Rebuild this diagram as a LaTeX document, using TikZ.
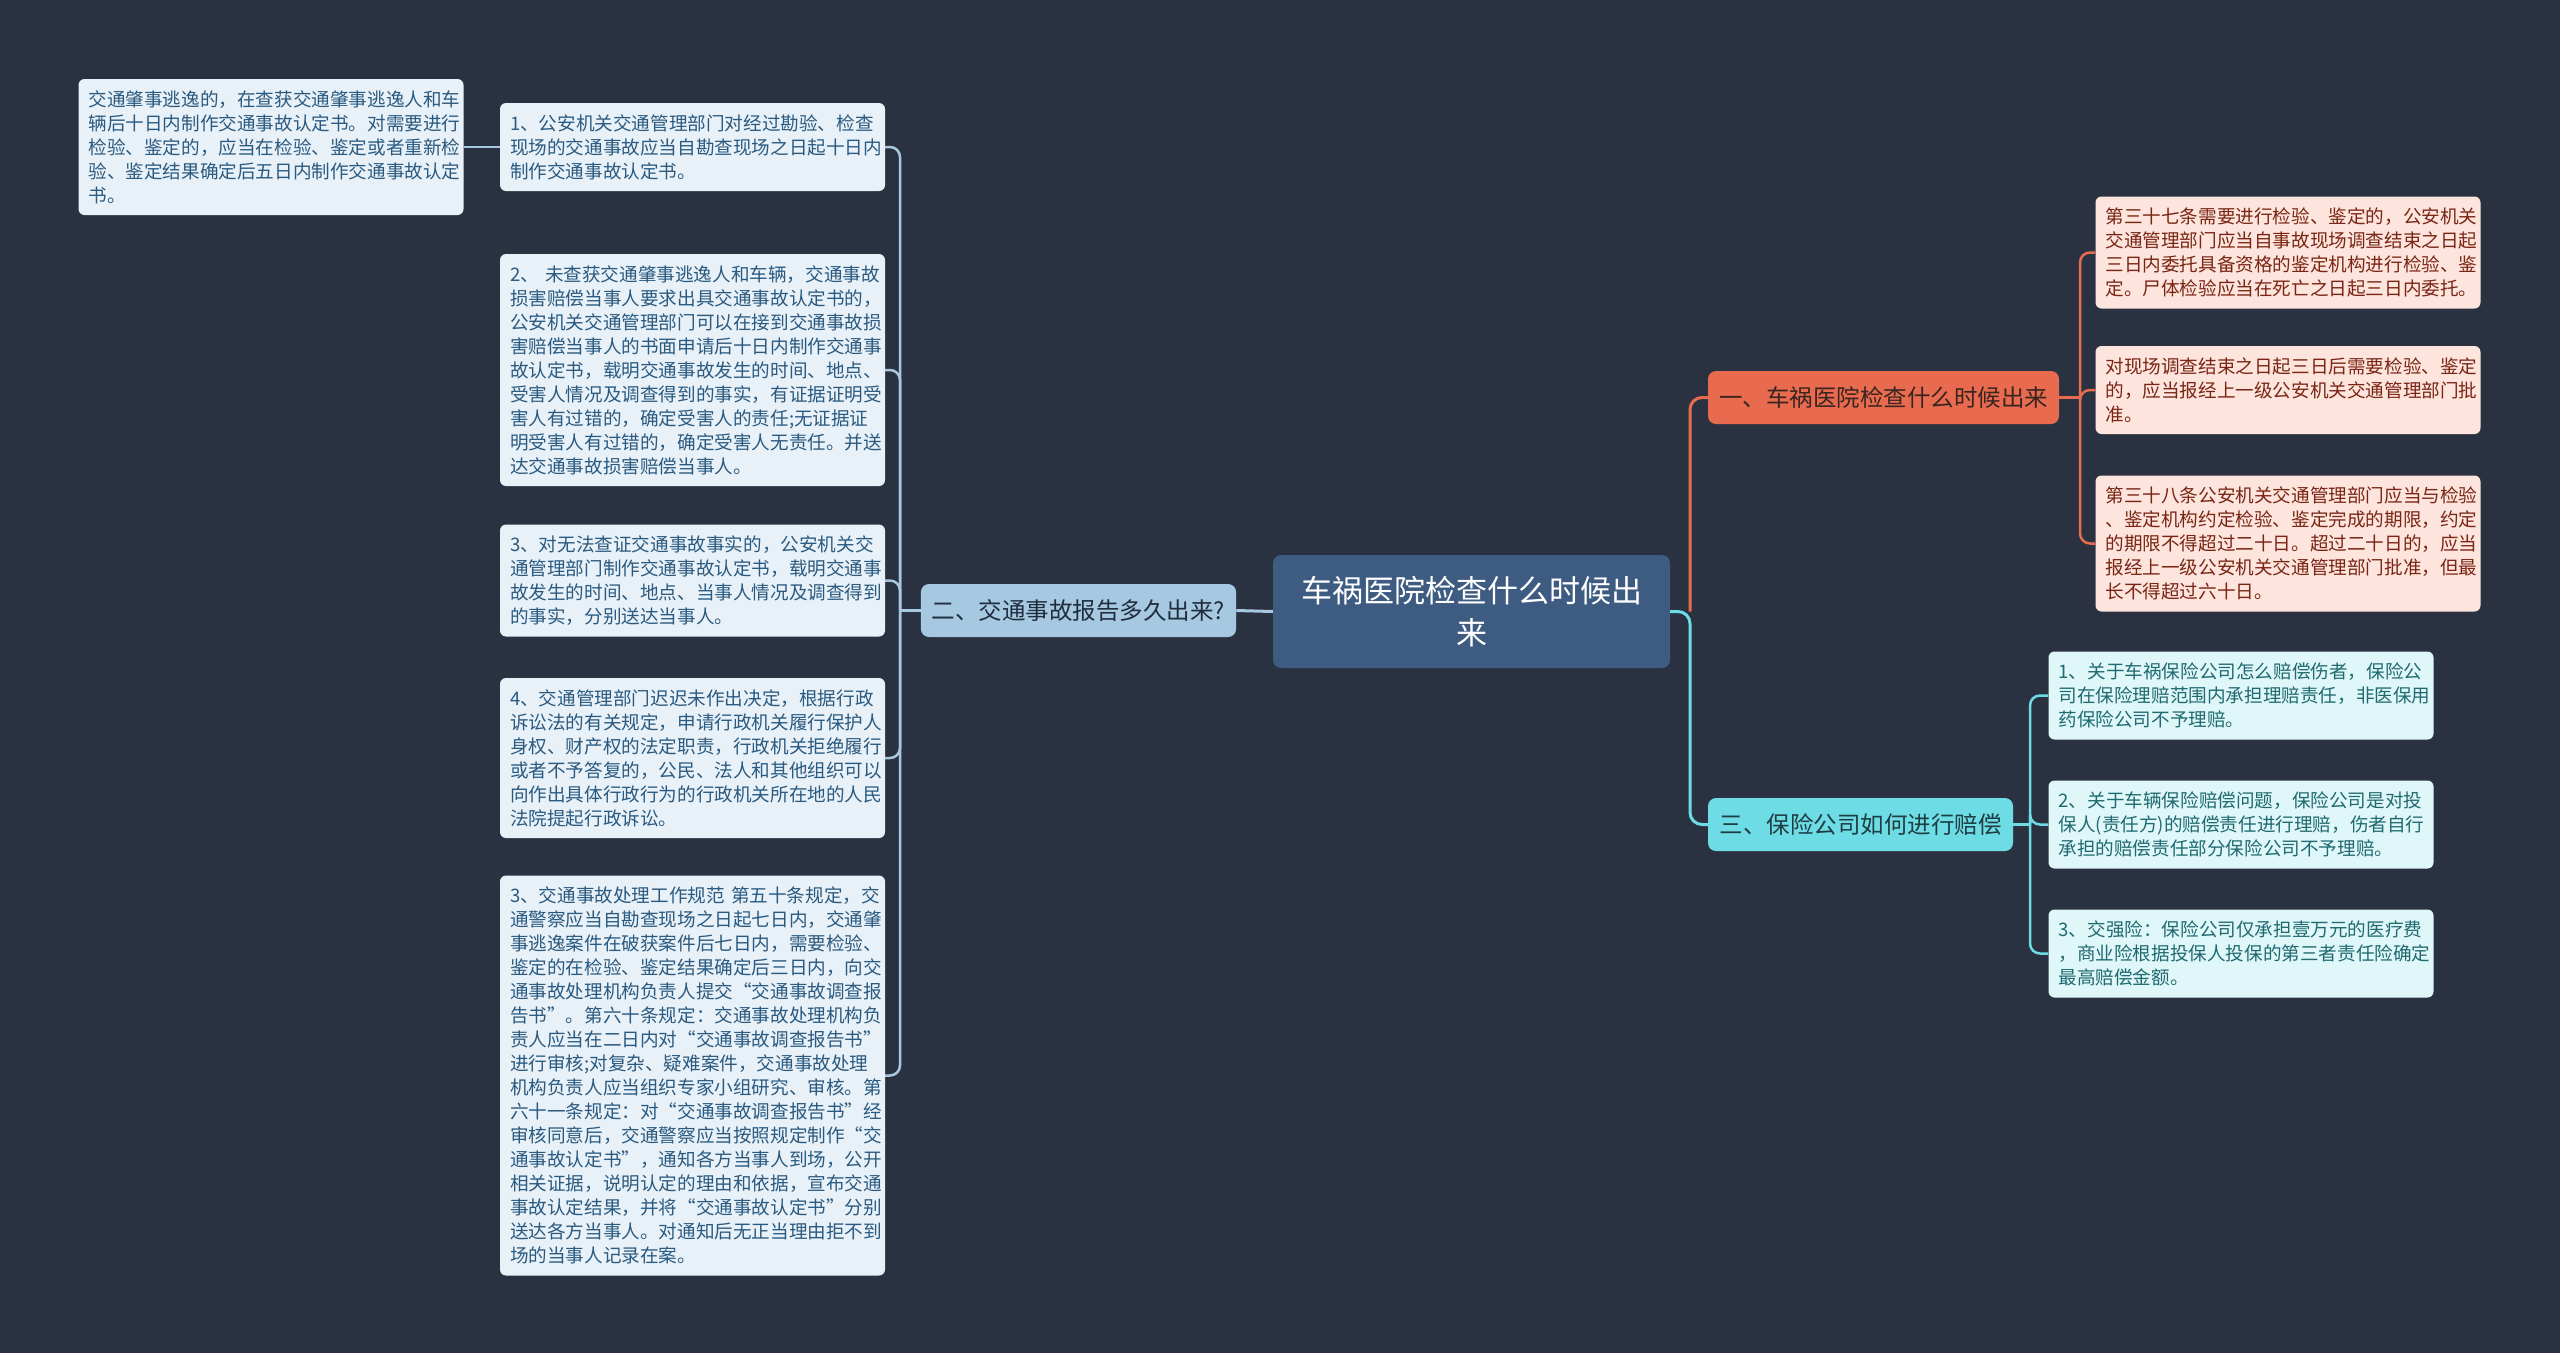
\documentclass[tikz,border=0pt]{standalone}
\usepackage{fontspec}
\setmainfont{Noto Sans CJK SC}
\definecolor{bgc}{HTML}{2A3241}
\definecolor{cfill}{HTML}{3E5C82}
\definecolor{bluefill}{HTML}{A6C8E0}
\definecolor{bluetext}{HTML}{1F2D3D}
\definecolor{orangefill}{HTML}{E86B4F}
\definecolor{orangetext}{HTML}{3A2420}
\definecolor{cyanfill}{HTML}{6EDCE4}
\definecolor{cyantext}{HTML}{1E3E44}
\definecolor{lfill}{HTML}{E9F1F8}
\definecolor{ltext}{HTML}{2A5A80}
\definecolor{pfill}{HTML}{FDE5DE}
\definecolor{ptext}{HTML}{7A2514}
\definecolor{qfill}{HTML}{E0F7F9}
\definecolor{qtext}{HTML}{1E6A70}
\begin{document}
\begin{tikzpicture}[x=1pt,y=-1pt,
  leafbase/.style={rounded corners=6pt, text width=365pt, inner xsep=10pt, inner ysep=2pt,
    align=left, font=\fontsize{18.6}{24}\selectfont},
  leafL/.style={leafbase, fill=lfill, text=ltext},
  leafP/.style={leafbase, fill=pfill, text=ptext},
  leafQ/.style={leafbase, fill=qfill, text=qtext},
  branchbox/.style={rounded corners=8pt, minimum height=53pt, inner xsep=11pt,
    font=\fontsize{23.5}{28}\selectfont},
  lkB/.style={draw=bluefill, line width=2.5pt, rounded corners=10pt},
  lkO/.style={draw=orangefill, line width=2.5pt, rounded corners=10pt},
  lkC/.style={draw=cyanfill, line width=2.5pt, rounded corners=10pt},
  mainB/.style={draw=bluefill, line width=3pt},
  mainO/.style={draw=orangefill, line width=3pt, rounded corners=12pt},
  mainC/.style={draw=cyanfill, line width=3pt, rounded corners=12pt}]
\fill[bgc] (0,0) rectangle (2560,1353);
\useasboundingbox (0,0) rectangle (2560,1353);

% central node
\node[fill=cfill, text=white, rounded corners=8pt, minimum width=397pt, minimum height=113pt,
  align=center, font=\fontsize{31}{42}\selectfont] (c) at (1471.5,611.5) {车祸医院检查什么时候出\\来};

% branches
\node[branchbox, fill=bluefill, text=bluetext, minimum width=315pt] (b2) at (1078.5,610.5) {二、交通事故报告多久出来?};
\node[branchbox, fill=orangefill, text=orangetext, minimum width=351pt] (b1) at (1883.5,397.5) {一、车祸医院检查什么时候出来};
\node[branchbox, fill=cyanfill, text=cyantext, minimum width=305pt] (b3) at (1860.5,824.5) {三、保险公司如何进行赔偿};

% left leaves
\node[leafL, minimum height=136pt] (L0) at (271,147) {交通肇事逃逸的，在查获交通肇事逃逸人和车\\辆后十日内制作交通事故认定书。对需要进行\\检验、鉴定的，应当在检验、鉴定或者重新检\\验、鉴定结果确定后五日内制作交通事故认定\\书。};
\node[leafL, minimum height=88pt] (L1) at (692.5,147) {1、公安机关交通管理部门对经过勘验、检查\\现场的交通事故应当自勘查现场之日起十日内\\制作交通事故认定书。};
\node[leafL, minimum height=232pt] (L2) at (692.5,370) {2、~未查获交通肇事逃逸人和车辆，交通事故\\损害赔偿当事人要求出具交通事故认定书的，\\公安机关交通管理部门可以在接到交通事故损\\害赔偿当事人的书面申请后十日内制作交通事\\故认定书，载明交通事故发生的时间、地点、\\受害人情况及调查得到的事实，有证据证明受\\害人有过错的，确定受害人的责任;无证据证\\明受害人有过错的，确定受害人无责任。并送\\达交通事故损害赔偿当事人。};
\node[leafL, minimum height=112pt] (L3) at (692.5,580.5) {3、对无法查证交通事故事实的，公安机关交\\通管理部门制作交通事故认定书，载明交通事\\故发生的时间、地点、当事人情况及调查得到\\的事实，分别送达当事人。};
\node[leafL, minimum height=160pt] (L4) at (692.5,758) {4、交通管理部门迟迟未作出决定，根据行政\\诉讼法的有关规定，申请行政机关履行保护人\\身权、财产权的法定职责，行政机关拒绝履行\\或者不予答复的，公民、法人和其他组织可以\\向作出具体行政行为的行政机关所在地的人民\\法院提起行政诉讼。};
\node[leafL, minimum height=400pt] (L5) at (692.5,1075.5) {3、交通事故处理工作规范~第五十条规定，交\\通警察应当自勘查现场之日起七日内，交通肇\\事逃逸案件在破获案件后七日内，需要检验、\\鉴定的在检验、鉴定结果确定后三日内，向交\\通事故处理机构负责人提交“交通事故调查报\\告书”。第六十条规定：交通事故处理机构负\\责人应当在二日内对“交通事故调查报告书”\\进行审核;对复杂、疑难案件，交通事故处理\\机构负责人应当组织专家小组研究、审核。第\\六十一条规定：对“交通事故调查报告书”经\\审核同意后，交通警察应当按照规定制作“交\\通事故认定书”，通知各方当事人到场，公开\\相关证据，说明认定的理由和依据，宣布交通\\事故认定结果，并将“交通事故认定书”分别\\送达各方当事人。对通知后无正当理由拒不到\\场的当事人记录在案。};

% right (orange) leaves
\node[leafP, minimum height=112pt] (R1) at (2288,252.5) {第三十七条需要进行检验、鉴定的，公安机关\\交通管理部门应当自事故现场调查结束之日起\\三日内委托具备资格的鉴定机构进行检验、鉴\\定。尸体检验应当在死亡之日起三日内委托。};
\node[leafP, minimum height=88pt] (R2) at (2288,390) {对现场调查结束之日起三日后需要检验、鉴定\\的，应当报经上一级公安机关交通管理部门批\\准。};
\node[leafP, minimum height=136pt] (R3) at (2288,543.5) {第三十八条公安机关交通管理部门应当与检验\\、鉴定机构约定检验、鉴定完成的期限，约定\\的期限不得超过二十日。超过二十日的，应当\\报经上一级公安机关交通管理部门批准，但最\\长不得超过六十日。};

% right (cyan) leaves
\node[leafQ, minimum height=88pt] (C1) at (2241,695.5) {1、关于车祸保险公司怎么赔偿伤者，保险公\\司在保险理赔范围内承担理赔责任，非医保用\\药保险公司不予理赔。};
\node[leafQ, minimum height=88pt] (C2) at (2241,824.5) {2、关于车辆保险赔偿问题，保险公司是对投\\保人(责任方)的赔偿责任进行理赔，伤者自行\\承担的赔偿责任部分保险公司不予理赔。};
\node[leafQ, minimum height=88pt] (C3) at (2241,953.5) {3、交强险：保险公司仅承担壹万元的医疗费\\，商业险根据投保人投保的第三者责任险确定\\最高赔偿金额。};

% junction coordinates
\coordinate (tL) at (900,610.5);
\coordinate (tR) at (1690,611.5);
\coordinate (tO) at (2080,397.5);
\coordinate (tC) at (2030,824.5);

% connectors: centre to branches
\draw[mainB] (c.west) -- (b2.east);
\draw[mainC] (c.east) -- (tR) |- (b3.west);
\draw[mainO] (tR) |- (b1.west);

% left leaves
\draw[lkB] (b2.west) -- (tL);
\foreach \n in {L1,L2,L3,L4,L5} { \draw[lkB] (tL) |- (\n.east); }
\draw[lkB] (L1.west) -- (L0.east);

% orange leaves
\draw[lkO] (b1.east) -- (tO);
\foreach \n in {R1,R2,R3} { \draw[lkO] (tO) |- (\n.west); }

% cyan leaves
\draw[lkC] (b3.east) -- (tC);
\foreach \n in {C1,C2,C3} { \draw[lkC] (tC) |- (\n.west); }
\end{tikzpicture}
\end{document}
